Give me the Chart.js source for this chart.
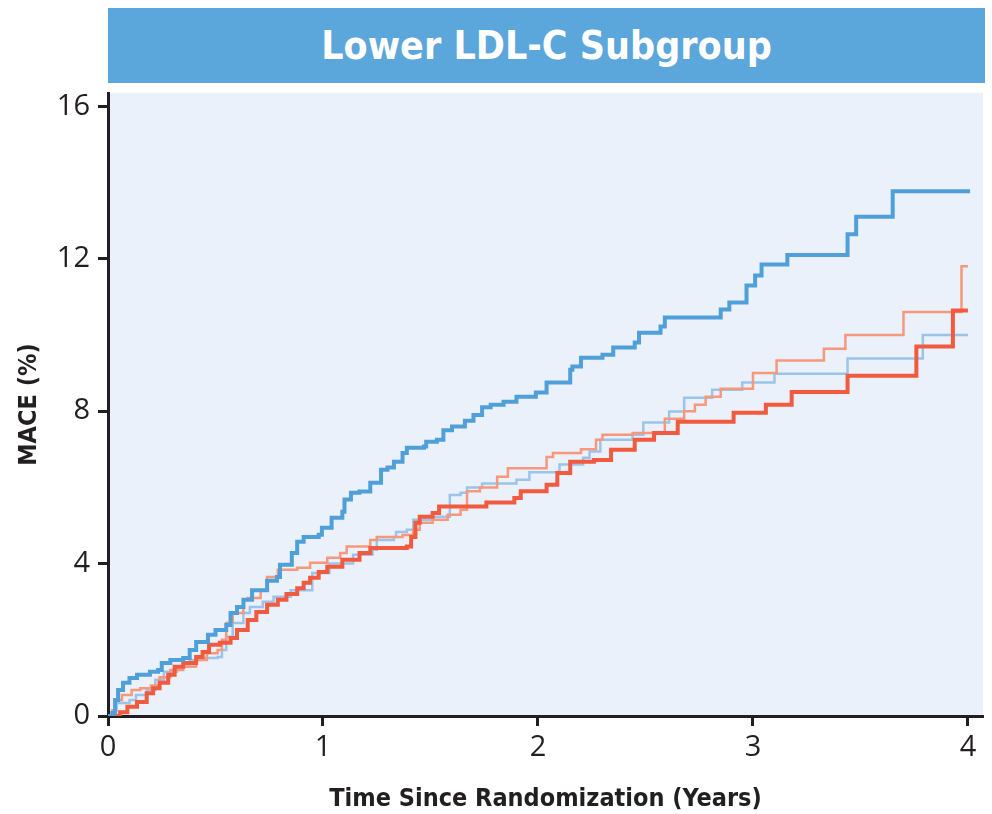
<!DOCTYPE html>
<html>
<head>
<meta charset="utf-8">
<script src="https://cdn.jsdelivr.net/npm/chart.js@4"></script>
<style>
  body { margin: 0; background: #fff; }
  #wrap { position: relative; width: 992px; height: 814px; }
  #banner {
    position: absolute; left: 108px; top: 8px; width: 877px; height: 75px;
    background: #5ba6da; color: #fff;
    font: bold 39px "DejaVu Sans Condensed", "DejaVu Sans", sans-serif;
    display: flex; align-items: center; justify-content: center;
  }
  canvas { position: absolute; left: 0; top: 0; }
</style>
</head>
<body>
<div id="wrap">
  <canvas id="kmChart" width="992" height="814"></canvas>
  <div id="banner">Lower LDL-C Subgroup</div>
</div>
<script>
// data (years, MACE %)
const xTicks = [0, 1, 2, 3, 4];
const yTicks = [0, 4, 8, 12, 16];

const darkBlueX = [0, 0.02, 0.033, 0.047, 0.07, 0.1, 0.135, 0.195, 0.233, 0.25, 0.29, 0.35, 0.38, 0.41, 0.465, 0.5, 0.55, 0.57, 0.6, 0.63, 0.67, 0.74, 0.786, 0.8, 0.855, 0.88, 0.91, 0.98, 0.995, 1.04, 1.09, 1.1, 1.13, 1.17, 1.22, 1.27, 1.3, 1.33, 1.37, 1.39, 1.47, 1.48, 1.53, 1.56, 1.6, 1.66, 1.7, 1.74, 1.78, 1.84, 1.9, 1.99, 2.04, 2.09, 2.15, 2.16, 2.2, 2.3, 2.35, 2.45, 2.47, 2.57, 2.59, 2.85, 2.89, 2.97, 3.01, 3.04, 3.16, 3.44, 3.48, 3.65, 4.01];
const darkBlueY = [0, 0.08, 0.42, 0.68, 0.87, 1.0, 1.08, 1.16, 1.21, 1.39, 1.47, 1.52, 1.73, 1.94, 2.13, 2.26, 2.39, 2.7, 2.86, 3.05, 3.3, 3.55, 3.65, 3.97, 4.28, 4.57, 4.7, 4.76, 4.94, 5.2, 5.36, 5.68, 5.86, 5.89, 6.12, 6.46, 6.52, 6.67, 6.9, 7.04, 7.07, 7.2, 7.25, 7.5, 7.6, 7.75, 7.9, 8.1, 8.17, 8.25, 8.38, 8.49, 8.75, 8.75, 9.09, 9.17, 9.4, 9.48, 9.67, 9.8, 10.06, 10.22, 10.46, 10.67, 10.85, 11.3, 11.56, 11.85, 12.1, 12.64, 13.1, 13.77, 13.77];

const redX = [0, 0.02, 0.056, 0.09, 0.135, 0.18, 0.21, 0.24, 0.28, 0.31, 0.35, 0.41, 0.44, 0.47, 0.52, 0.57, 0.6, 0.65, 0.69, 0.74, 0.79, 0.83, 0.88, 0.91, 0.94, 0.98, 1.02, 1.09, 1.17, 1.22, 1.39, 1.41, 1.43, 1.45, 1.51, 1.54, 1.76, 1.89, 1.92, 2.04, 2.09, 2.15, 2.26, 2.34, 2.45, 2.54, 2.65, 2.91, 3.06, 3.18, 3.44, 3.76, 3.93, 4.0];
const redY = [0, 0, 0.1, 0.24, 0.37, 0.6, 0.73, 0.87, 1.08, 1.29, 1.39, 1.55, 1.68, 1.87, 1.92, 2.05, 2.26, 2.52, 2.73, 2.92, 3.05, 3.2, 3.35, 3.5, 3.63, 3.78, 3.92, 4.1, 4.28, 4.41, 4.45, 4.7, 5.07, 5.23, 5.33, 5.5, 5.6, 5.72, 5.9, 6.07, 6.38, 6.67, 6.72, 6.99, 7.25, 7.43, 7.72, 7.96, 8.17, 8.5, 8.93, 9.7, 10.64, 10.64];

const salmonX = [0, 0.02, 0.033, 0.065, 0.11, 0.15, 0.2, 0.24, 0.29, 0.35, 0.41, 0.46, 0.51, 0.53, 0.55, 0.575, 0.58, 0.63, 0.65, 0.71, 0.74, 0.79, 0.88, 0.94, 1.02, 1.08, 1.11, 1.22, 1.25, 1.37, 1.42, 1.45, 1.51, 1.58, 1.64, 1.67, 1.73, 1.81, 1.86, 2.04, 2.07, 2.2, 2.27, 2.3, 2.44, 2.59, 2.68, 2.73, 2.78, 2.85, 3.0, 3.11, 3.33, 3.43, 3.7, 3.97, 4.0];
const salmonY = [0, 0.15, 0.42, 0.55, 0.68, 0.73, 0.8, 1.02, 1.21, 1.29, 1.47, 1.65, 1.73, 2.0, 2.44, 2.47, 2.7, 3.05, 3.1, 3.3, 3.65, 3.84, 3.89, 4.02, 4.15, 4.28, 4.45, 4.62, 4.7, 4.75, 4.89, 5.07, 5.15, 5.28, 5.41, 5.9, 6.0, 6.28, 6.5, 6.8, 6.9, 7.0, 7.25, 7.38, 7.43, 7.8, 8.0, 8.17, 8.38, 8.59, 9.0, 9.33, 9.64, 10.0, 10.6, 11.8, 11.8];

const lightBlueX = [0, 0.02, 0.04, 0.1, 0.13, 0.18, 0.22, 0.26, 0.32, 0.38, 0.43, 0.51, 0.53, 0.55, 0.58, 0.63, 0.66, 0.72, 0.77, 0.85, 0.95, 1.03, 1.14, 1.23, 1.25, 1.33, 1.34, 1.39, 1.42, 1.51, 1.59, 1.64, 1.67, 1.74, 1.9, 1.96, 2.1, 2.21, 2.24, 2.29, 2.44, 2.49, 2.61, 2.68, 2.81, 2.95, 3.1, 3.44, 3.79, 4.0];
const lightBlueY = [0, 0.15, 0.34, 0.42, 0.55, 0.68, 0.95, 1.16, 1.29, 1.47, 1.52, 1.55, 1.73, 2.08, 2.44, 2.7, 2.86, 3.0, 3.13, 3.3, 3.75, 4.0, 4.23, 4.36, 4.62, 4.7, 4.83, 4.89, 5.15, 5.23, 5.8, 5.86, 6.0, 6.1, 6.2, 6.4, 6.6, 6.78, 6.94, 7.25, 7.38, 7.7, 7.99, 8.35, 8.56, 8.75, 8.98, 9.38, 10.0, 10.0];

function pts(xs, ys) {
  return xs.map((x, i) => ({ x: x, y: ys[i] }));
}

const ink = '#231f20';

// light blue plot background
const plotBg = {
  id: 'plotBg',
  beforeDraw(chart) {
    const a = chart.chartArea;
    const c = chart.ctx;
    c.save();
    c.fillStyle = '#eaf1fa';
    c.fillRect(a.left, a.top, a.right - a.left, a.bottom - a.top);
    c.restore();
  }
};

function line(label, xs, ys, color, width) {
  return {
    label: label,
    data: pts(xs, ys),
    borderColor: color,
    borderWidth: width,
    stepped: true,
    pointRadius: 0,
    fill: false
  };
}

new Chart(document.getElementById('kmChart'), {
  type: 'line',
  data: {
    datasets: [
      line('Dark blue', darkBlueX, darkBlueY, '#4f9fd8', 4),
      line('Red', redX, redY, '#f15a3f', 4),
      line('Salmon', salmonX, salmonY, '#f7977c', 2.5),
      line('Light blue', lightBlueX, lightBlueY, '#9bc4ea', 2.5)
    ]
  },
  options: {
    responsive: false,
    animation: false,
    layout: { padding: { top: 93, right: 9, left: 0, bottom: 0 } },
    plugins: { legend: { display: false }, tooltip: { enabled: false } },
    scales: {
      x: {
        type: 'linear',
        min: 0,
        max: 4.07,
        afterBuildTicks: s => { s.ticks = xTicks.map(v => ({ value: v })); },
        afterFit: s => { s.height = 98; },
        grid: { drawOnChartArea: false, tickLength: 10, tickWidth: 3, color: ink },
        border: { color: ink, width: 3 },
        ticks: { color: ink, font: { family: 'Open Sans', size: 29 }, padding: 4 },
        title: {
          display: true, text: 'Time Since Randomization (Years)', color: ink,
          font: { family: 'DejaVu Sans Condensed', weight: 'bold', size: 25 },
          padding: { top: 0, bottom: 0 }
        }
      },
      y: {
        min: 0,
        max: 16.35,
        afterBuildTicks: s => { s.ticks = yTicks.map(v => ({ value: v })); },
        afterFit: s => { s.width = 108; },
        grid: { drawOnChartArea: false, tickLength: 10, tickWidth: 3, color: ink },
        border: { color: ink, width: 3 },
        ticks: { color: ink, font: { family: 'Open Sans', size: 29 }, padding: 8 },
        title: {
          display: true, text: 'MACE (%)', color: ink,
          font: { family: 'DejaVu Sans Condensed', weight: 'bold', size: 25 },
          padding: { top: 14, bottom: 0 }
        }
      }
    }
  },
  plugins: [plotBg]
});
</script>
</body>
</html>
